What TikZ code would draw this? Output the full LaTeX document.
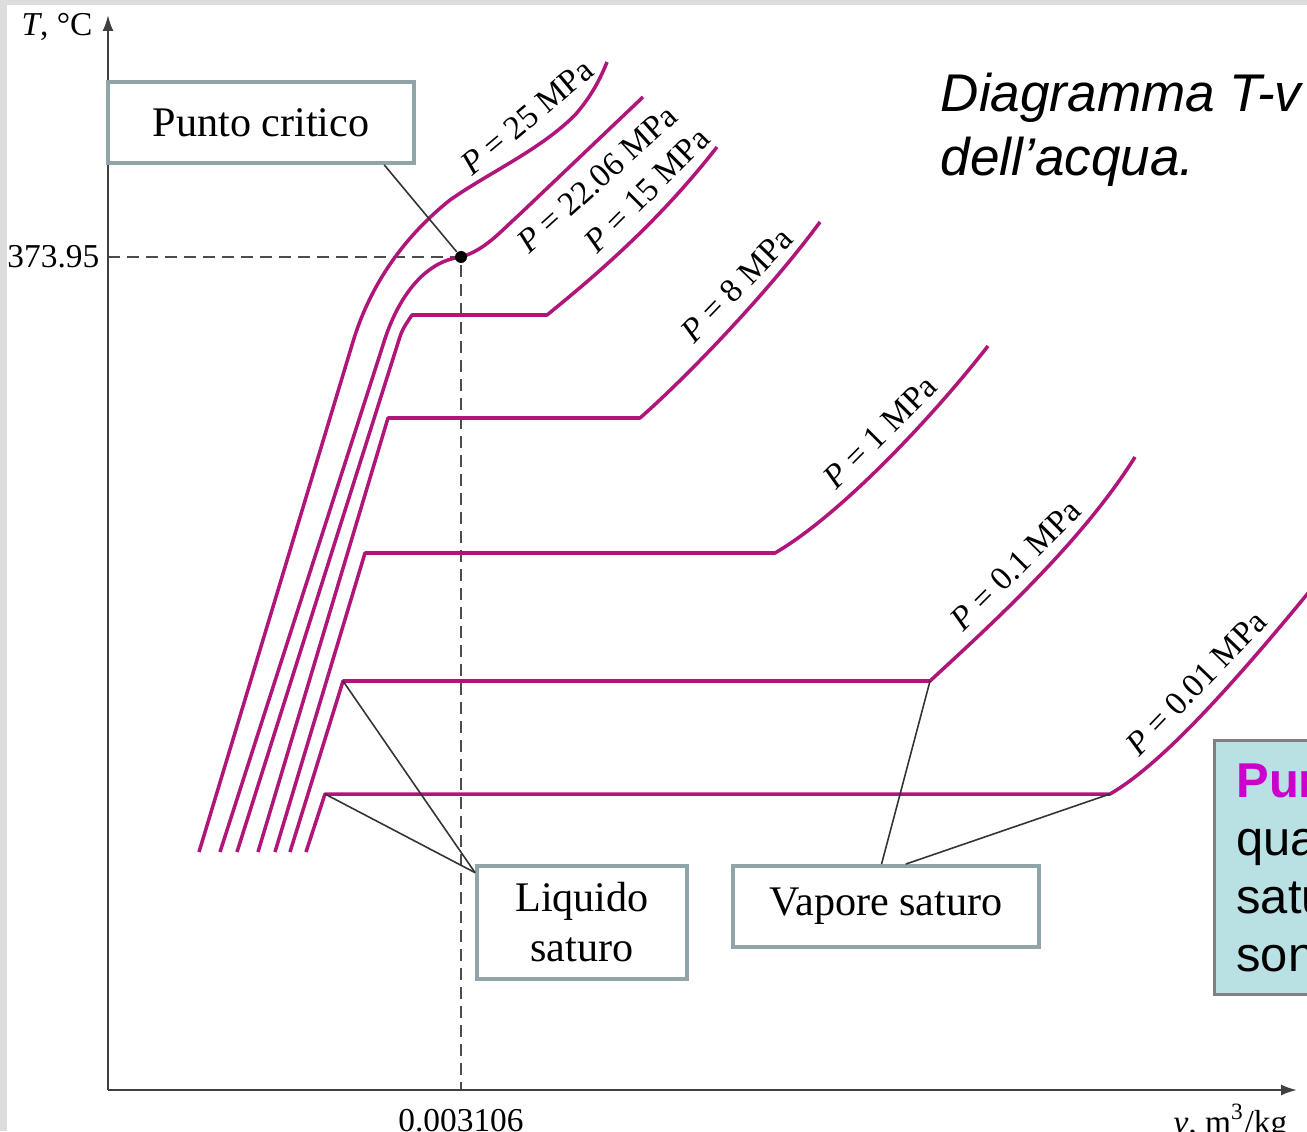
\documentclass[tikz,border=0pt]{standalone}
\usepackage{fontspec}
\setmainfont{Liberation Serif}
\newfontfamily\slidefont{Liberation Sans}
\usetikzlibrary{arrows.meta}

\definecolor{isocol}{RGB}{176,22,122}
\definecolor{boxcol}{RGB}{143,165,168}
\definecolor{infofill}{RGB}{185,224,227}
\definecolor{infoedge}{RGB}{128,128,128}
\definecolor{infomag}{RGB}{204,0,204}
\definecolor{pagegray}{RGB}{221,221,221}

\begin{document}
\begin{tikzpicture}[
x=0.1mm, y=-0.1mm,
isobar/.style={draw=isocol, line width=1pt, line join=round},
leader/.style={draw=black!80, line width=0.45pt},
axisline/.style={draw=black!75, line width=0.6pt, -{Latex[length=1.6mm, width=1.1mm]}},
dashline/.style={draw=black!70, line width=0.35pt, dash pattern=on 1.2mm off 0.7mm},
tagbox/.style={rectangle, draw=boxcol, line width=1.1pt, fill=white, align=center, inner sep=0pt, font=\fontsize{12}{14.2}\selectfont},
plabel/.style={inner sep=0pt, font=\fontsize{9.5}{11}\selectfont},
critdot/.style={circle, fill=black, inner sep=0pt, minimum size=1.2mm},
titletext/.style={anchor=north west, inner sep=0pt, align=left, font=\slidefont\itshape\fontsize{15.1}{18.2}\selectfont},
infobox/.style={anchor=north west, rectangle, draw=infoedge, line width=0.85pt, fill=infofill, minimum height=25.4mm, inner xsep=2.2mm, inner ysep=0pt, text width=20mm, align=left, font=\slidefont\fontsize{13.9}{16.5}\selectfont}
]

    \useasboundingbox (0,0) rectangle (1307,1131);
    \clip (0,0) rectangle (1307,1131);
    \fill[pagegray] (0,0) rectangle (1307,1131);
    \fill[white] (7,5) rectangle (1307,1131);

    \coordinate (o) at (108,1090);
    \coordinate (ytop) at (108,15);
    \coordinate (xend) at (1297,1090);
    \coordinate (crit) at (461,257);
    \coordinate (ty) at (108,257);
    \coordinate (tx) at (461,1090);
    \coordinate (l1) at (343,681);
    \coordinate (l2) at (325,794);
    \coordinate (v1) at (930,681);
    \coordinate (v2) at (1110,794);

    \draw[dashline] (ty) -- (crit) -- (tx);
    \draw[axisline] (o) -- (ytop);
    \draw[axisline] (o) -- (xend);

    \draw[isobar] (199,852) -- (352,345) .. controls (368,290) and (400,240) .. (450,200) .. controls (490,172) and (540,150) .. (575,115) .. controls (590,98) and (600,80) .. (607,62);
    \draw[isobar] (220,852) -- (383,345) .. controls (395,305) and (420,262) .. (crit) .. controls (485,250) and (500,232) .. (520,214) -- (643,97);
    \draw[isobar] (237,852) -- (397,346) .. controls (402,330) .. (412,315) -- (547,315) .. controls (600,272) and (660,220) .. (717,147);
    \draw[isobar] (258,852) -- (388,418) -- (640,418) .. controls (690,374) and (770,290) .. (820,222);
    \draw[isobar] (275,852) -- (365,553) -- (775,553) .. controls (840,515) and (930,420) .. (988,346);
    \draw[isobar] (290,852) -- (l1) -- (v1) .. controls (985,630) and (1080,545) .. (1135,457);
    \draw[isobar] (306,852) -- (l2) -- (v2) .. controls (1160,765) and (1230,690) .. (1335,560);

    \node [critdot] (cpdot) at (crit) {};

    \node [plabel, rotate=40] (p25) at (527,117) {\textit{P} = 25 MPa};
    \node [plabel, rotate=42] (p22) at (597,179) {\textit{P} = 22.06 MPa};
    \node [plabel, rotate=45] (p15) at (647,190) {\textit{P} = 15 MPa};
    \node [plabel, rotate=46] (p8) at (737,285) {\textit{P} = 8 MPa};
    \node [plabel, rotate=45] (p1) at (880,432) {\textit{P} = 1 MPa};
    \node [plabel, rotate=45] (p01) at (1016,565) {\textit{P} = 0.1 MPa};
    \node [plabel, rotate=46] (p001) at (1196,683) {\textit{P} = 0.01 MPa};

    \node [plabel, anchor=base] (tlab) at (57,36) {\textit{T}, °C};
    \node [plabel, anchor=base east] (tcrit) at (100,268) {373.95};
    \node [plabel, anchor=base] (vcrit) at (461,1131) {0.003106};
    \node [plabel, anchor=base west] (vlab) at (1173,1133) {\textit{v}, m\textsuperscript{3}/kg};

    \node [tagbox, minimum width=30.6mm, minimum height=8.1mm] (pc) at (261,122.5) {Punto critico};
    \node [tagbox, minimum width=21mm, minimum height=11.3mm] (liq) at (582,922.5) {Liquido\\saturo};
    \node [tagbox, minimum width=30.6mm, minimum height=8.1mm] (vap) at (886,906.5) {Vapore saturo};

    \draw[leader] (pc.-19) edge (cpdot);
    \draw[leader] (liq.155) edge (l1);
    \draw[leader] (liq.155) edge (l2);
    \draw[leader] (vap.96) edge (v1);
    \draw[leader] (vap.65) edge (v2);

    \node [titletext] (title) at (940,72) {Diagramma T-v\\dell’acqua.};
    \node [infobox] (info) at (1213,739) {\textcolor{infomag}{\bfseries Pun}\\qua\\satu\\son};

\end{tikzpicture}
\end{document}
